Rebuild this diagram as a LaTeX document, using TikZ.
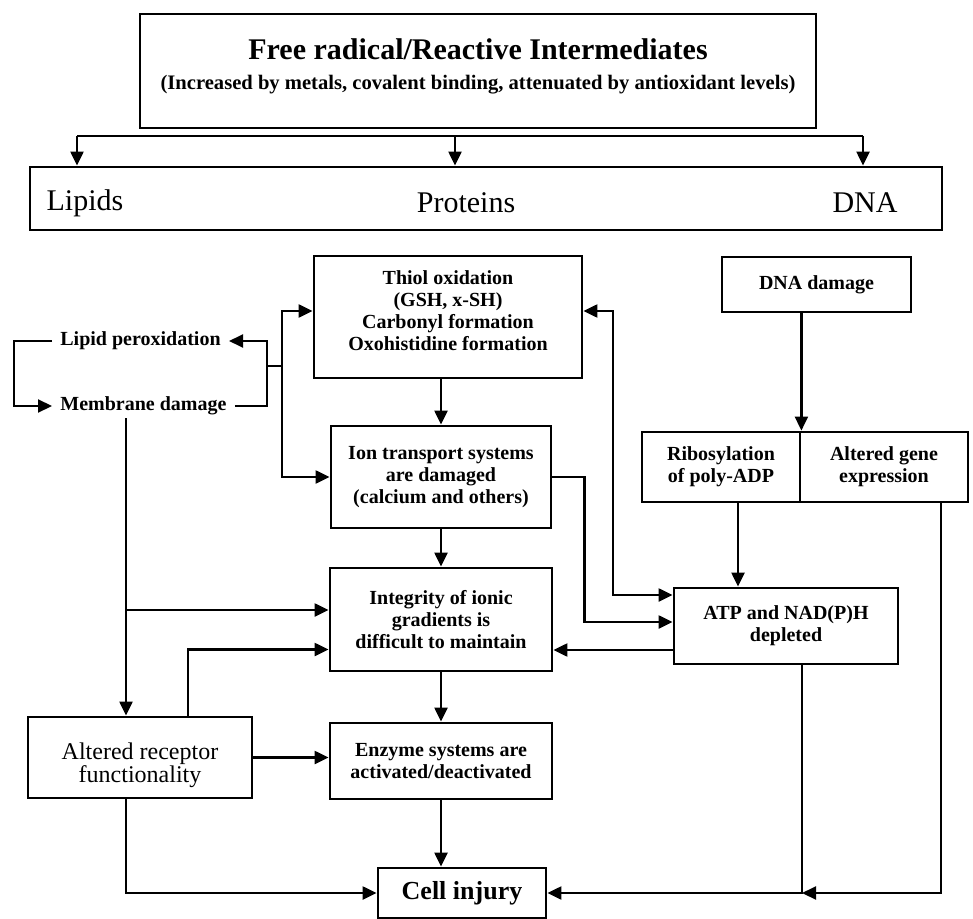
\documentclass[tikz,border=0pt]{standalone}
\usepackage{fontspec}
\setmainfont{Liberation Serif}
\usetikzlibrary{arrows.meta}

\begin{document}
\begin{tikzpicture}[x=0.5pt, y=-0.5pt,
    every text node part/.style={align=center},
    box/.style={draw, line width=1.4pt, inner sep=0pt,
      font=\fontsize{10}{11}\selectfont\bfseries},
    plain/.style={inner sep=4pt, font=\fontsize{10}{11}\selectfont\bfseries},
    arr/.style={line width=1.1pt, -{Triangle[length=7pt,width=6.5pt]}},
    arrs/.style={line width=1.1pt, {Triangle[length=7pt,width=6.5pt]}-{Triangle[length=7pt,width=6.5pt]}}]
    \useasboundingbox (0,0) rectangle (973,919);

    % Boxes
    \node[box, minimum width=338pt, minimum height=57pt] (fr) at (478,71) {};
    \node[font=\fontsize{15}{18}\selectfont\bfseries] (frt) at (478,49)
    {Free radical/Reactive Intermediates};
    \node[font=\fontsize{10.3}{12}\selectfont\bfseries] (frs) at (478,85)
    {(Increased by metals, covalent binding, attenuated by antioxidant levels)};

    \node[box, minimum width=456pt, minimum height=31.5pt] (tgt) at (486,198.5) {};
    \node[font=\fontsize{15}{18}\selectfont] (lip) at (85,203) {Lipids};
    \node[font=\fontsize{15}{18}\selectfont] (prot) at (466,203) {Proteins};
    \node[font=\fontsize{15}{18}\selectfont] (dnat) at (865,203) {DNA};

    \node[box, minimum width=134pt, minimum height=61pt] (thiol) at (448,317)
    {Thiol oxidation\\(GSH, x-SH)\\Carbonyl formation\\Oxohistidine formation\\[-5pt]\mbox{}};
    \node[box, minimum width=110pt, minimum height=51pt] (ion) at (441,477)
    {Ion transport systems\\are damaged\\(calcium and others)};
    \node[box, minimum width=111pt, minimum height=51.5pt] (integ) at (441,619.5)
    {Integrity of ionic\\gradients is\\difficult to maintain};
    \node[box, minimum width=111pt, minimum height=38pt] (enz) at (441,761)
    {Enzyme systems are\\activated/deactivated};
    \node[box, minimum width=84pt, minimum height=25pt,
      font=\fontsize{13}{15}\selectfont\bfseries] (cell) at (462,893) {Cell injury};
    \node[box, minimum width=112pt, minimum height=40.5pt,
      font=\fontsize{12}{11.5}\selectfont] (rec) at (140,757.5)
    {\rule{0pt}{16pt}Altered receptor\\functionality};

    \node[plain, anchor=west] (lp) at (52,341) {Lipid peroxidation};
    \node[plain, anchor=west] (md) at (52,406) {Membrane damage};

    \node[box, minimum width=94.5pt, minimum height=27.5pt] (dnad) at (816.5,284.5)
    {DNA damage};
    \node[box, minimum width=79pt, minimum height=35pt] (rib) at (721,467)
    {Ribosylation\\of poly-ADP};
    \node[box, minimum width=84pt, minimum height=35pt] (gene) at (884,467)
    {Altered gene\\expression};
    \node[box, minimum width=112pt, minimum height=38pt] (atp) at (786,626)
    {ATP and NAD(P)H\\depleted};

    % Arcs
    \coordinate (hl) at (77,136);
    \coordinate (hr) at (863,136);
    \draw[line width=1.1pt] (hl) -- (hr);
    \foreach \x in {77,455,863}
    \draw[arr] (\x,136) -- (tgt.north -| \x,0);

    \draw[arr] (lp.west) -- ++(-38,0) |- (md.west);
    \coordinate (lpr) at (267,366);
    \coordinate (prr) at (282,366);
    \draw[arr] (md.east) -| (lpr) |- (lp.east);
    \draw[line width=1.1pt] (lpr) -- (prr);
    \draw[arr] (prr) |- ([yshift=3pt]thiol.west);
    \draw[arr] (prr) |- (ion.west);

    \draw[arr] (thiol.south -| ion.north) -- (ion.north);
    \draw[arr] (ion.south) -- (integ.north);
    \draw[arr] (integ.south) -- (enz.north);
    \draw[arr] (enz.south) -- (enz.south |- cell.north);

    \coordinate (mdd) at (126,418);
    \coordinate (br1) at (126,610);
    \draw[arr] (mdd) -- (mdd |- rec.north);
    \draw[arr] (br1) -- (br1 -| integ.west);
    \draw[arr] ([xshift=24pt]rec.north) |- ([yshift=-15pt]integ.west);
    \draw[arr] (rec.east) -- (rec.east -| enz.west);
    \draw[arr] ([xshift=-7pt]rec.south) |- (cell.west);

    \draw[arr] (dnad.south -| rib.east) -- (rib.north east);
    \draw[arr] ([xshift=8.5pt]rib.south) -- ([xshift=8.5pt]rib.south |- atp.north);
    \coordinate (rv) at (613,595);
    \draw[arrs] ([yshift=3pt]thiol.east) -| (rv) -- (rv -| atp.west);
    \draw[arr] (ion.east) -- ++(32,0) |- ([yshift=2pt]atp.west);
    \draw[arr] ([yshift=-12pt]atp.west) -- ([yshift=-12pt]atp.west -| integ.east);
    \coordinate (jn) at (802,893);
    \draw[arr] (jn |- atp.south) -- (jn) -- (cell.east);
    \draw[arr] ([xshift=28.5pt]gene.south) |- (jn);
  \end{tikzpicture}
\end{document}
